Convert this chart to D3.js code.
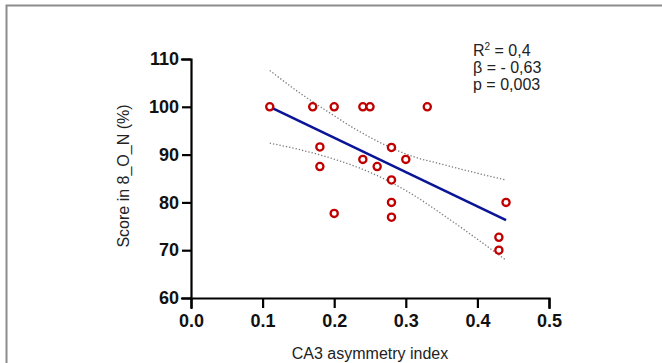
<!DOCTYPE html>
<html>
<head>
<meta charset="utf-8">
<script src="https://cdn.jsdelivr.net/npm/d3@7"></script>
<style>
  body { margin: 0; background: #fff; }
  svg { display: block; font-family: "Liberation Sans", Arial, sans-serif; }
  .axis path, .axis line { stroke: #000; stroke-width: 2.2; }
  .axis text { font-size: 18px; font-weight: bold; fill: #111; }
</style>
</head>
<body>
<svg id="chart" width="662" height="363"></svg>
<script>
// data
const asymIndex = [0.11, 0.17, 0.20, 0.24, 0.25, 0.33, 0.18, 0.18, 0.20, 0.24, 0.26, 0.28, 0.30, 0.28, 0.28, 0.28, 0.44, 0.43, 0.43];
const score     = [100, 100, 100, 100, 100, 100, 91.6, 87.5, 77.7, 89.0, 87.5, 91.5, 89.0, 84.7, 80.0, 76.9, 80.0, 72.7, 70.0];

// fitted line and 95% band (as drawn)
const fitX = [0.11, 0.44];
const fitY = [100, 76.3];
const bandX     = [0.11, 0.15, 0.19, 0.23, 0.27, 0.31, 0.35, 0.40, 0.44];
const bandUpper = [107.6, 103.1, 99.1, 95.3, 92.1, 89.6, 88.0, 86.1, 84.7];
const bandLower = [92.4, 91.1, 89.5, 87.5, 84.9, 81.6, 77.6, 72.3, 67.9];

const xTicks = [0, 0.1, 0.2, 0.3, 0.4, 0.5];
const yTicks = [60, 70, 80, 90, 100, 110];
const statLines = ["= 0,4", "β = - 0,63", "p = 0,003"];

const svg = d3.select("#chart");

// frame of the figure
svg.append("path")
  .attr("d", "M6.5,363 V5.5 H662")
  .attr("fill", "none")
  .attr("stroke", "#8c8c8c")
  .attr("stroke-width", 2);

const xScale = d3.scaleLinear().domain([0, 0.5]).range([191, 549]);
const yScale = d3.scaleLinear().domain([60, 110]).range([298, 59]);

svg.append("g")
  .attr("class", "axis")
  .attr("transform", "translate(0,298)")
  .call(d3.axisBottom(xScale).tickValues(xTicks).tickFormat(d3.format(".1f")).tickSizeOuter(0).tickSize(10).tickPadding(6));

svg.append("g")
  .attr("class", "axis")
  .attr("transform", "translate(191,0)")
  .call(d3.axisLeft(yScale).tickValues(yTicks).tickSizeOuter(0).tickSize(9).tickPadding(3));

svg.selectAll(".axis .domain").attr("stroke-linecap", "square");

// confidence band
const band = d3.line().x(d => xScale(d[0])).y(d => yScale(d[1])).curve(d3.curveMonotoneX);
[bandUpper, bandLower].forEach(arr => {
  svg.append("path")
    .attr("d", band(bandX.map((x, i) => [x, arr[i]])))
    .attr("fill", "none")
    .attr("stroke", "#7a7a7a")
    .attr("stroke-width", 1.3)
    .attr("stroke-dasharray", "1.3,2");
});

// regression line
svg.append("path")
  .attr("d", d3.line().x(d => xScale(d[0])).y(d => yScale(d[1]))(fitX.map((x, i) => [x, fitY[i]])))
  .attr("fill", "none")
  .attr("stroke", "#0a1496")
  .attr("stroke-width", 2.6);

// points
svg.selectAll("circle.pt")
  .data(asymIndex.map((x, i) => [x, score[i]]))
  .join("circle")
  .attr("class", "pt")
  .attr("cx", d => xScale(d[0]))
  .attr("cy", d => yScale(d[1]))
  .attr("r", 3.6)
  .attr("fill", "#fff")
  .attr("stroke", "#c00000")
  .attr("stroke-width", 2.3);

// axis titles
svg.append("text")
  .attr("x", 370).attr("y", 359)
  .attr("text-anchor", "middle")
  .attr("font-size", 16)
  .attr("fill", "#222")
  .text("CA3 asymmetry index");

svg.append("text")
  .attr("transform", "translate(129,176) rotate(-90)")
  .attr("text-anchor", "middle")
  .attr("font-size", 16)
  .attr("fill", "#222")
  .text("Score in 8_O_N (%)");

// stats
const st = svg.append("g").attr("font-size", 16).attr("fill", "#222");
const r2 = st.append("text").attr("x", 473).attr("y", 56);
r2.append("tspan").text("R");
r2.append("tspan").attr("font-size", 10).attr("dy", -6).text("2");
r2.append("tspan").attr("dy", 6).text(" " + statLines[0]);
st.append("text").attr("x", 473).attr("y", 73).text(statLines[1]);
st.append("text").attr("x", 473).attr("y", 90).text(statLines[2]);
</script>
</body>
</html>
